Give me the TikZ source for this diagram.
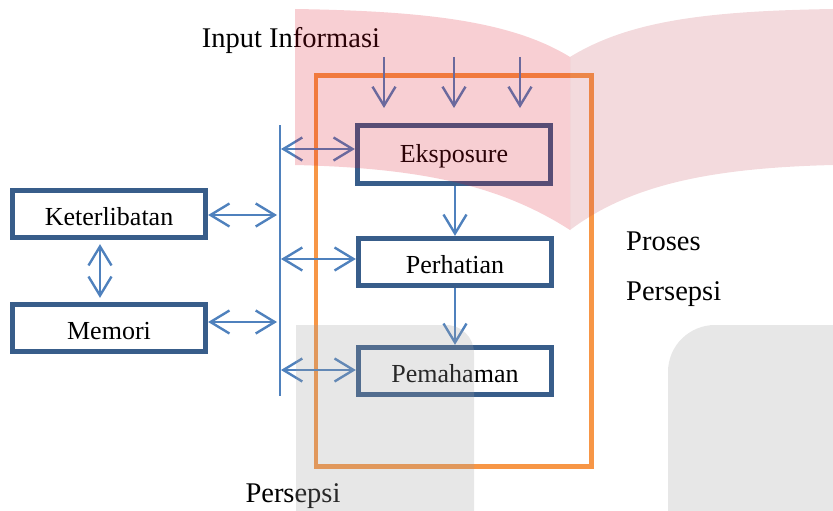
\documentclass[tikz,border=0pt]{standalone}
\usepackage{fontspec}
\setmainfont{Liberation Serif}
\usetikzlibrary{arrows.meta}
\definecolor{boxblue}{HTML}{385D8A}
\definecolor{arrowblue}{HTML}{4F81BD}
\definecolor{procorange}{HTML}{F79646}
\definecolor{markred}{RGB}{219,13,33}
\definecolor{markgray}{RGB}{160,160,160}

\begin{document}
\begin{tikzpicture}[x=1pt,y=-1pt,
  stagebox/.style={draw=boxblue, line width=4.8pt, fill=white,
    minimum width=193.5pt, minimum height=47.5pt, inner sep=0pt,
    font=\fontsize{26}{30}\selectfont, text height=23pt, text depth=1pt},
  barb/.tip={Straight Barb[length=19pt,width=23pt]},
  flow/.style={draw=arrowblue, line width=2.4pt, -barb},
  both/.style={draw=arrowblue, line width=2.4pt, barb-barb},
  plaintext/.style={font=\fontsize{28.5}{32}\selectfont, inner sep=0pt, anchor=base}
]
\useasboundingbox (0,0) rectangle (833,511);

% process frame
\node[draw=procorange, line width=4.5pt, minimum width=275.5pt,
      minimum height=391pt, inner sep=0pt] (proc) at (453.75,271) {};

% stages of perception
\node[stagebox, minimum height=58.5pt, text height=18pt, text depth=3pt]
      (eks) at (454,154.5) {Eksposure};
\node[stagebox] (per) at (455,262) {Perhatian};
\node[stagebox] (pem) at (455,371) {Pemahaman};

% influencing factors
\node[stagebox] (ket) at (109,214) {Keterlibatan};
\node[stagebox] (mem) at (109,328) {Memori};

% texts
\node[plaintext] (inputlbl) at (291,48) {Input Informasi};
\node[plaintext, anchor=base west] (proses) at (626,250) {Proses};
\node[plaintext, anchor=base west] (persepsi) at (626,300) {Persepsi};
\node[plaintext] (bottomlbl) at (293,502) {Persepsi};

% vertical bar
\coordinate (bartop) at (280,125);
\coordinate (barbot) at (280,396);
\draw[arrowblue, line width=2pt] (bartop) -- (barbot);

% bar to stages
\coordinate (b1) at (281,149);
\coordinate (b2) at (281,259);
\coordinate (b3) at (281,370);
\draw[both] (b1) -- (eks.west |- b1);
\draw[both] (b2) -- (per.west |- b2);
\draw[both] (b3) -- (pem.west |- b3);

% factors to bar
\coordinate (k1) at (277,215);
\coordinate (m1) at (277,322);
\draw[both] (ket.east |- k1) -- (k1);
\draw[both] (mem.east |- m1) -- (m1);
\draw[both, shorten <=4pt, shorten >=4pt] ([xshift=-9pt]ket.south) -- ([xshift=-9pt]mem.north);

% information input
\coordinate (in1) at (384,57);  \coordinate (in1e) at (384,108);
\coordinate (in2) at (454,57);  \coordinate (in2e) at (454,108);
\coordinate (in3) at (520,57);  \coordinate (in3e) at (520,108);
\draw[flow] (in1) -- (in1e);
\draw[flow] (in2) -- (in2e);
\draw[flow] (in3) -- (in3e);

% stage flow
\draw[flow] ([xshift=1pt]eks.south) -- ([xshift=1pt]eks.south |- per.north);
\draw[flow] (per.south) -- (pem.north);

% background mark
\fill[markred, opacity=0.2] (295,9) .. controls (420,11) and (510,20) .. (570,57)
  -- (570,230) .. controls (500,185) and (420,168) .. (295,165) -- cycle;
\fill[markred!60!markgray, opacity=0.2] (570,57) .. controls (630,20) and (710,11) .. (833,9)
  -- (833,165) .. controls (710,168) and (630,185) .. (570,230) -- cycle;
\fill[markgray, opacity=0.25] (296,511) -- (296,325) -- (446,325)
  .. controls (461.5,325) and (474,337.5) .. (474,353) -- (474,511) -- cycle;
\fill[markgray, opacity=0.25] (668,511) -- (668,372)
  .. controls (668,345) and (690,325) .. (715,325) -- (833,325) -- (833,511) -- cycle;
\end{tikzpicture}
\end{document}
